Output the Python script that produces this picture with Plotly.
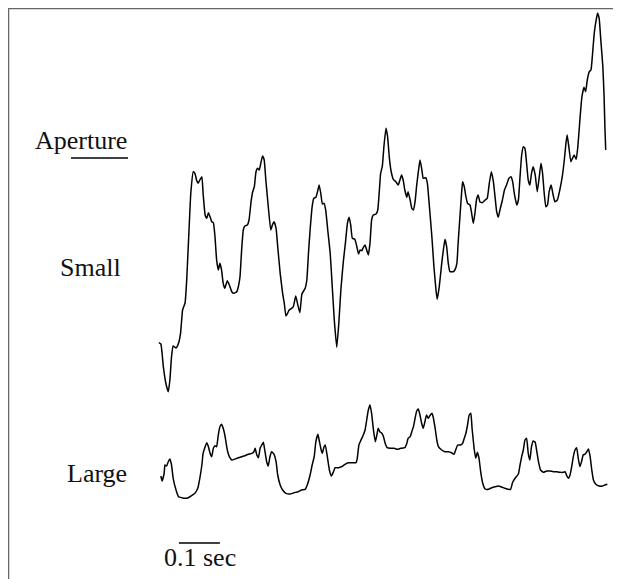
import plotly.graph_objects as go

# ---- Data: time in ms, aperture in arbitrary units ----
small_t = [2, 7, 13, 19, 25, 29, 33, 37, 44, 50, 55, 60, 66, 70, 76, 80, 86, 90, 94, 98,
           102, 107, 110, 115, 119, 123, 127, 131, 135, 139, 143, 147, 151, 155, 159, 163, 169, 174, 180, 185,
           192, 196, 200, 204, 208, 212, 218, 222, 227, 231, 235, 239, 243, 247, 251, 255, 259, 263, 269, 275,
           279, 283, 288, 292, 298, 304, 308, 312, 316, 320, 326, 330, 336, 341, 346, 351, 359, 363, 367, 371,
           376, 380, 385, 390, 393, 397, 401, 405, 409, 414, 420, 425, 430, 436, 441, 446, 452, 457, 462, 466,
           470, 474, 480, 485, 489, 493, 497, 501, 505, 509, 513, 517, 521, 525, 532, 536, 540, 543, 547, 551,
           556, 560, 564, 568, 574, 580, 586, 590, 594, 598, 602, 607, 610, 615, 619, 623, 627, 631, 635, 639,
           643, 647, 653, 657, 662, 668, 673, 678, 681, 686, 692, 696, 700, 704, 708, 712, 720, 724, 729, 732,
           737, 741, 743, 747, 751, 755, 761, 765, 769, 773, 777, 781, 785, 791, 798, 803, 808, 813, 818, 822,
           826, 830, 834, 840, 845, 850, 856, 861, 865, 869, 875, 879, 883, 887, 891, 895, 899, 903, 907, 911,
           915, 920, 925, 930, 934, 938, 942, 946, 950, 954, 959, 963, 968, 974, 980, 986, 991, 995, 998, 1002,
           1007, 1011, 1015, 1020, 1024, 1029, 1034, 1039, 1043, 1047, 1052, 1056, 1060, 1064, 1068, 1072, 1076, 1080, 1085, 1088,
           1090, 1092]
small_v = [5.73, 5.6, 3.33, 1.7, 0.83, 2.0, 4.33, 5.4, 5.2, 5.67, 6.67, 9.0, 9.7, 12.0, 17.33, 20.67, 22.83, 22.67, 22.0, 21.67,
           22.0, 22.33, 20.67, 18.5, 18.17, 18.73, 18.33, 17.83, 17.73, 16.33, 14.0, 13.0, 13.67, 13.0, 11.67, 11.17, 11.93, 11.5, 10.83, 10.67,
           10.83, 11.33, 12.33, 15.0, 17.0, 17.4, 17.5, 18.0, 19.83, 20.83, 21.33, 22.83, 23.17, 23.0, 23.73, 24.4, 24.0, 22.0, 19.33, 17.0,
           17.5, 17.83, 17.17, 15.33, 12.67, 10.67, 9.67, 8.4, 8.67, 9.0, 9.17, 9.33, 10.4, 9.5, 8.73, 10.6, 11.17, 12.0, 14.67, 17.0,
           19.33, 20.17, 20.27, 21.0, 21.5, 20.67, 19.6, 19.67, 19.0, 17.0, 14.67, 11.33, 8.0, 5.27, 7.67, 11.0, 13.83, 15.67, 17.67, 18.27,
           17.5, 16.17, 16.07, 15.33, 14.6, 15.0, 14.93, 15.27, 15.5, 15.0, 14.5, 15.67, 18.0, 18.5, 18.6, 19.0, 21.0, 22.67, 23.33, 25.33,
           27.17, 26.33, 24.33, 23.0, 22.07, 21.83, 21.5, 22.0, 22.5, 22.0, 21.0, 20.27, 20.83, 20.0, 19.17, 19.0, 19.83, 21.5, 22.83, 24.0,
           23.17, 22.17, 22.23, 21.67, 19.33, 16.33, 13.33, 11.0, 10.07, 11.33, 13.67, 15.0, 16.07, 15.33, 13.67, 12.83, 12.83, 13.0, 13.67, 15.67,
           18.67, 21.0, 21.83, 21.33, 20.33, 19.67, 19.5, 18.67, 17.67, 18.67, 20.07, 20.5, 19.83, 19.73, 20.0, 20.17, 21.67, 22.83, 21.83, 20.33,
           18.83, 18.27, 19.0, 20.0, 21.0, 21.5, 22.17, 22.33, 21.83, 20.67, 19.5, 20.0, 22.33, 24.5, 25.33, 25.17, 23.67, 22.0, 21.5, 22.67,
           23.33, 22.5, 20.83, 22.33, 23.67, 22.67, 20.67, 19.33, 19.5, 20.83, 21.5, 20.67, 19.83, 20.0, 21.0, 22.33, 24.0, 25.67, 26.5, 25.33,
           23.83, 24.17, 24.5, 24.07, 25.33, 28.0, 30.33, 31.27, 30.83, 32.0, 32.83, 33.0, 34.67, 36.67, 37.83, 38.67, 38.17, 36.0, 33.33, 30.33,
           27.33, 25.0]

large_t = [7, 10, 15, 17, 21, 25, 29, 33, 37, 44, 50, 58, 66, 74, 82, 90, 97, 102, 107, 110,
           115, 119, 123, 127, 131, 135, 139, 143, 147, 151, 155, 159, 163, 169, 174, 180, 188, 196, 204, 212,
           220, 229, 234, 237, 241, 245, 249, 253, 257, 261, 265, 269, 273, 277, 283, 288, 292, 298, 304, 312,
           322, 332, 342, 350, 359, 364, 371, 376, 381, 385, 390, 393, 398, 401, 405, 408, 413, 418, 423, 428,
           432, 440, 448, 456, 464, 472, 483, 486, 490, 494, 499, 505, 509, 513, 517, 521, 525, 530, 533, 537,
           541, 546, 550, 554, 559, 568, 576, 584, 592, 602, 607, 610, 615, 619, 623, 627, 631, 635, 639, 643,
           647, 651, 655, 659, 663, 668, 671, 676, 680, 684, 692, 700, 708, 716, 722, 726, 731, 738, 743, 747,
           751, 755, 759, 763, 766, 771, 775, 779, 783, 787, 792, 798, 806, 814, 822, 830, 838, 846, 854, 860,
           865, 871, 879, 883, 887, 891, 895, 899, 903, 907, 911, 915, 920, 924, 928, 933, 940, 948, 956, 964,
           972, 980, 989, 993, 997, 1001, 1005, 1009, 1013, 1017, 1021, 1025, 1029, 1033, 1037, 1041, 1046, 1050, 1054, 1058,
           1062, 1068, 1076, 1084, 1090, 1096]
large_v = [2.4, 1.9, 2.67, 3.5, 3.4, 3.83, 4.1, 3.5, 2.17, 1.0, 0.33, 0.23, 0.17, 0.23, 0.43, 0.67, 1.17, 2.17, 3.5, 4.67,
           5.33, 5.73, 5.33, 4.67, 4.33, 5.17, 5.43, 5.33, 6.5, 7.33, 7.57, 7.17, 6.5, 5.0, 4.33, 4.0, 4.1, 4.23, 4.33, 4.43,
           4.57, 4.67, 4.83, 5.17, 4.5, 4.23, 5.17, 5.5, 5.77, 4.83, 3.83, 3.4, 4.33, 4.83, 4.57, 3.83, 2.5, 1.5, 1.0, 0.67,
           0.6, 0.73, 0.83, 1.0, 1.07, 1.5, 2.5, 3.5, 4.33, 5.83, 6.57, 6.0, 5.0, 4.67, 5.33, 5.5, 4.33, 3.0, 2.4, 2.83,
           3.23, 3.23, 3.33, 3.57, 3.73, 3.73, 3.73, 4.17, 5.5, 5.9, 6.33, 7.0, 8.0, 9.0, 9.5, 8.67, 7.17, 5.83, 6.33, 7.17,
           6.83, 6.67, 6.33, 5.67, 5.23, 5.17, 5.17, 5.07, 5.17, 5.23, 5.67, 6.17, 6.33, 6.83, 7.33, 8.17, 8.9, 9.1, 8.5, 7.67,
           7.17, 7.83, 8.5, 8.17, 8.43, 8.67, 8.33, 7.17, 6.0, 5.33, 5.0, 4.83, 4.83, 4.73, 4.57, 5.0, 5.5, 5.5, 5.67, 6.17,
           6.67, 7.5, 8.5, 8.67, 7.17, 5.17, 4.17, 4.77, 4.17, 2.83, 1.67, 1.1, 1.07, 1.23, 1.33, 1.4, 1.3, 1.17, 1.07, 1.07,
           1.77, 2.17, 2.6, 3.5, 4.33, 5.0, 6.0, 6.17, 4.67, 4.0, 5.33, 5.9, 5.77, 4.83, 3.83, 3.0, 2.77, 2.9, 2.9, 2.83,
           2.83, 2.77, 2.77, 2.83, 2.43, 2.17, 2.5, 3.33, 4.33, 5.0, 5.23, 4.17, 3.33, 3.83, 4.5, 4.57, 4.83, 5.1, 4.33, 3.0,
           2.0, 1.57, 1.4, 1.4, 1.5, 1.57]

labels = ["Aperture", "Small", "Large"]
scale_bar_ms = 100
scale_label = "0.1 sec"

# ---- Layout geometry (screen pixels; the page adds an 8 px body margin) ----
W, H = 621, 579
OFF = 8
x0_px = 158 - OFF        # pixel of t = 0 inside the figure
px_per_ms = 0.41         # 0.1 sec = 41 px
small_base_px, large_base_px, px_per_unit = 400 - OFF, 500 - OFF, 10

x_range = [-x0_px / px_per_ms, (W - x0_px) / px_per_ms]
y_small = [(small_base_px - H) / px_per_unit, small_base_px / px_per_unit]
y_large = [(large_base_px - H) / px_per_unit, large_base_px / px_per_unit]

fig = go.Figure()
line = dict(color="black", width=1.5, shape="spline", smoothing=0.4)
fig.add_trace(go.Scatter(x=small_t, y=small_v, mode="lines", line=line, yaxis="y", hoverinfo="skip"))
fig.add_trace(go.Scatter(x=large_t, y=large_v, mode="lines", line=line, yaxis="y2", hoverinfo="skip"))

font = dict(family="Liberation Serif, Times New Roman, serif", size=26, color="#111")

def px(x):
    return (x - OFF) / W

def py(y):
    return 1 - (y - OFF) / H

annotations = [
    dict(text=labels[0], x=px(129), y=py(140), xanchor="right", yanchor="middle"),
    dict(text=labels[1], x=px(123), y=py(267), xanchor="right", yanchor="middle"),
    dict(text=labels[2], x=px(129), y=py(473), xanchor="right", yanchor="middle"),
    dict(text=scale_label, x=px(200), y=py(557), xanchor="center", yanchor="middle"),
]
for a in annotations:
    a.update(xref="paper", yref="paper", showarrow=False, font=font)

bar_start = 51
bar_y = (large_base_px - (543 - OFF)) / px_per_unit
shapes = [
    # frame: top and left border at the figure edge
    dict(type="line", xref="paper", yref="paper", x0=0, x1=1, y0=1, y1=1,
         line=dict(color="#666", width=2.5)),
    dict(type="line", xref="paper", yref="paper", x0=0, x1=0, y0=1, y1=0,
         line=dict(color="#666", width=2.5)),
    # underline below "Aperture"
    dict(type="line", xref="paper", yref="paper", x0=px(71), x1=px(128), y0=py(158), y1=py(158),
         line=dict(color="black", width=1.3)),
    # time scale bar
    dict(type="line", xref="x", yref="y2", x0=bar_start, x1=bar_start + scale_bar_ms,
         y0=bar_y, y1=bar_y, line=dict(color="black", width=1.3)),
]

fig.update_layout(
    width=W, height=H,
    margin=dict(l=0, r=0, t=0, b=0),
    paper_bgcolor="white", plot_bgcolor="white",
    showlegend=False,
    xaxis=dict(range=x_range, visible=False, domain=[0, 1]),
    yaxis=dict(range=y_small, visible=False, domain=[0, 1]),
    yaxis2=dict(range=y_large, visible=False, overlaying="y"),
    annotations=annotations,
    shapes=shapes,
)

fig.write_html("out.html")
